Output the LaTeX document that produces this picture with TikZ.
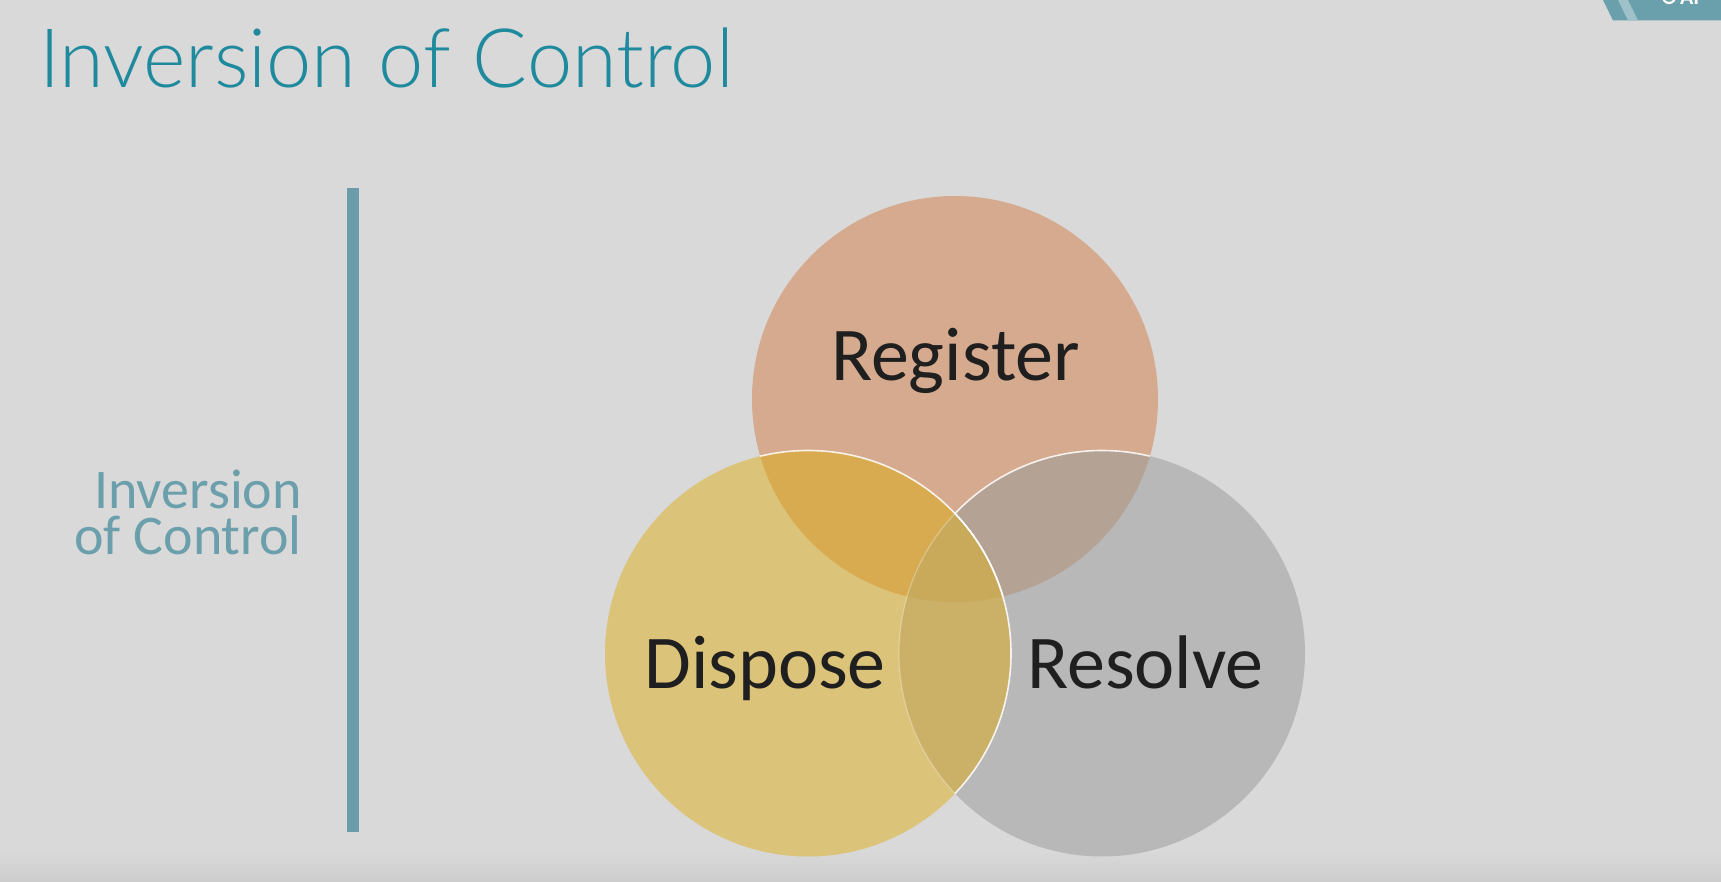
\documentclass[tikz,border=0pt]{standalone}
\usepackage{fontspec}
\setmainfont{Carlito}
\newfontfamily\lightfont[FakeStretch=0.99]{Lato Light}
\definecolor{bg}{HTML}{D9D9D9}
\definecolor{bgdark}{HTML}{CDCDCD}
\definecolor{titlec}{HTML}{1F8A9E}
\definecolor{sidec}{HTML}{6B9FAC}
\definecolor{barc}{HTML}{6A9CAA}
\definecolor{bannerc}{HTML}{6A9FAC}
\definecolor{bannerl}{HTML}{9EC1CA}
\definecolor{regc}{HTML}{D5AA8E}
\definecolor{disc}{HTML}{DCC37A}
\definecolor{resc}{HTML}{B8B8B8}
\definecolor{regdis}{HTML}{D8AB50}
\definecolor{regres}{HTML}{B4A294}
\definecolor{disres}{HTML}{CBB068}
\definecolor{allc}{HTML}{C9A95A}
\definecolor{txtc}{HTML}{1F1F1F}
\tikzset{
  lbl/.style={inner sep=0pt, anchor=base, text=txtc, font=\fontsize{76}{76}\selectfont},
  side/.style={inner sep=0pt, align=right, text=sidec, font=\fontsize{56}{46}\selectfont},
  rim/.style={draw=white, draw opacity=0.85, line width=1.6pt},
  faintrim/.style={draw=white, draw opacity=0.3, line width=1.2pt},
}
\begin{document}
\begin{tikzpicture}[x=1pt,y=-1pt]
\useasboundingbox (0,0) rectangle (1721,882);
\fill[bg] (0,0) rectangle (1721,882);
\shade[top color=bg, bottom color=bgdark] (0,850) rectangle (1721,882);
% top-right banner
\fill[bannerc] (1603,0) -- (1721,0) -- (1721,20.5) -- (1613,20.5) -- cycle;
\fill[bannerl] (1618,0) -- (1628,0) -- (1638,20.5) -- (1628,20.5) -- cycle;
\begin{scope}
  \clip (1640,0) rectangle (1721,20.5);
  \draw[white, line width=2.2pt] (1669,-3) circle[radius=6pt];
  \node[inner sep=0pt, anchor=base west, text=white, font=\fontsize{22}{22}\selectfont\bfseries] (logo) at (1680,5) {Al};
\end{scope}
% title
\node[inner sep=0pt, anchor=base west, text=titlec, font=\lightfont\fontsize{82}{82}\selectfont] (title) at (39,88) {Inversion of Control};
% side label and bar
\node[side, anchor=base east] (side) at (302,554) {Inversion\\of Control};
\fill[barc] (347,188) rectangle (359,832);
% circles
\coordinate (creg) at (955,399);
\coordinate (cdis) at (808,653.5);
\coordinate (cres) at (1102,653.5);
\def\rr{203pt}
\fill[regc] (creg) circle[radius=\rr];
\fill[resc] (cres) circle[radius=\rr];
\begin{scope}
  \clip (creg) circle[radius=\rr];
  \fill[regres] (cres) circle[radius=\rr];
  \draw[rim] (cres) circle[radius=\rr];
\end{scope}
\fill[disc] (cdis) circle[radius=\rr];
\begin{scope}
  \clip (creg) circle[radius=\rr];
  \fill[regdis] (cdis) circle[radius=\rr];
\end{scope}
\begin{scope}
  \clip (cres) circle[radius=\rr];
  \fill[disres] (cdis) circle[radius=\rr];
\end{scope}
\begin{scope}
  \clip (creg) circle[radius=\rr];
  \clip (cres) circle[radius=\rr];
  \fill[allc] (cdis) circle[radius=\rr];
\end{scope}
\begin{scope}
  \clip (cdis) circle[radius=\rr];
  \draw[faintrim] (cres) circle[radius=\rr];
\end{scope}
\begin{scope}
  \clip (creg) circle[radius=\rr];
  \draw[rim] (cdis) circle[radius=\rr];
\end{scope}
\begin{scope}
  \clip (cres) circle[radius=\rr];
  \draw[rim] (cdis) circle[radius=\rr];
\end{scope}
% labels
\node[lbl] (register) at (955.5,381) {Register};
\node[lbl] (dispose) at (765,688) {Dispose};
\node[lbl] (resolve) at (1145.5,688) {Resolve};
\end{tikzpicture}
\end{document}
